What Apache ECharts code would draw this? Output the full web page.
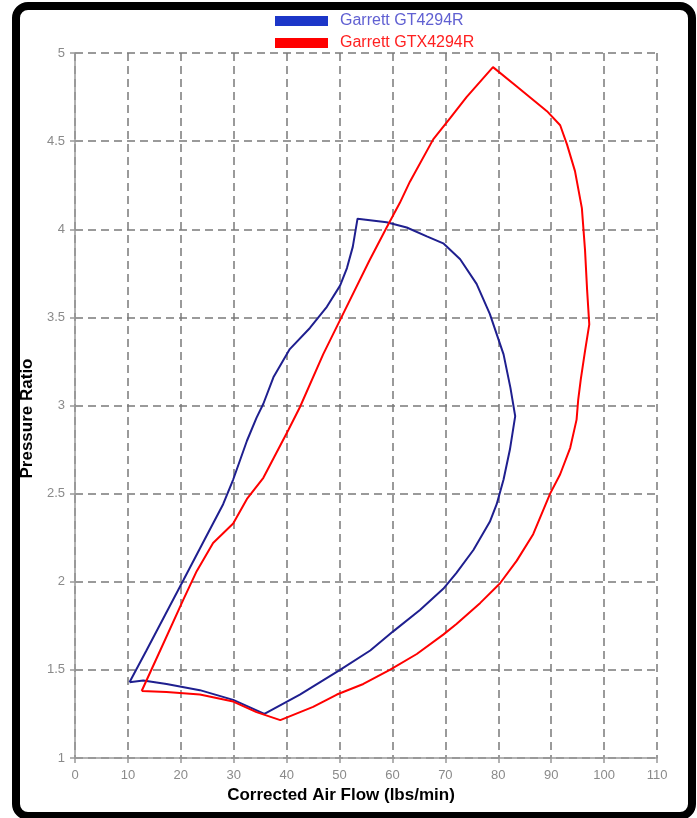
<!DOCTYPE html>
<html>
<head>
<meta charset="utf-8">
<script src="https://cdn.jsdelivr.net/npm/echarts@6/dist/echarts.min.js"></script>
<style>
html,body{margin:0;padding:0;background:#fff;}
#chart{width:697px;height:818px;}
</style>
</head>
<body>
<div id="chart"></div>
<script>
// X-axis ticks and Y-axis ticks
var xTicks = [0, 10, 20, 30, 40, 50, 60, 70, 80, 90, 100, 110];
var yTicks = [1, 1.5, 2, 2.5, 3, 3.5, 4, 4.5, 5];
var seriesNames = ['Garrett GT4294R', 'Garrett GTX4294R'];

// Garrett GT4294R compressor map outline (corrected air flow lbs/min, pressure ratio)
var gtFlow = [10.3, 13.5, 17.0, 20.5, 24.5, 28.0, 29.9, 32.5, 34.3, 35.6, 37.5, 40.6, 44.4, 47.6, 50.1, 51.4, 52.5, 53.4,
  58.9, 62.7, 66.5, 69.6, 72.8, 75.9, 78.4, 81.0, 82.3, 83.2, 82.2, 81.0, 79.7, 78.4, 75.3, 72.1, 69.6, 65.2, 60.2, 55.8,
  50.1, 42.5, 35.8, 29.9, 23.6, 17.3, 12.9, 10.3];
var gtPR = [1.43, 1.61, 1.81, 2.01, 2.24, 2.44, 2.58, 2.80, 2.93, 3.01, 3.16, 3.32, 3.44, 3.56, 3.68, 3.78, 3.90, 4.06,
  4.04, 4.01, 3.96, 3.92, 3.83, 3.69, 3.52, 3.29, 3.10, 2.94, 2.75, 2.58, 2.44, 2.34, 2.18, 2.05, 1.96, 1.84, 1.72, 1.61,
  1.50, 1.36, 1.25, 1.33, 1.385, 1.42, 1.44, 1.43];

// Garrett GTX4294R compressor map outline
var gtxFlow = [12.6, 16.1, 20.5, 23.0, 26.1, 29.9, 32.5, 35.6, 40.3, 42.5, 46.9, 51.0, 55.6, 58.9, 61.4, 63.3, 67.7, 70.9,
  74.0, 79.0, 83.5, 89.2, 91.7, 93.0, 94.5, 95.8, 96.4, 96.8, 97.2, 96.4, 95.6, 95.1, 94.8, 93.6, 91.7, 89.8, 86.6, 83.5,
  80.3, 76.6, 72.1, 69.6, 64.6, 59.5, 54.5, 49.5, 45.0, 38.8, 34.3, 29.9, 23.6, 17.3, 12.6];
var gtxPR = [1.38, 1.61, 1.90, 2.06, 2.22, 2.33, 2.47, 2.59, 2.86, 2.99, 3.29, 3.54, 3.82, 4.01, 4.15, 4.27, 4.51, 4.63,
  4.75, 4.92, 4.81, 4.67, 4.59, 4.48, 4.33, 4.12, 3.88, 3.65, 3.46, 3.31, 3.15, 3.03, 2.92, 2.76, 2.61, 2.50, 2.27, 2.12,
  1.99, 1.88, 1.76, 1.70, 1.59, 1.50, 1.42, 1.36, 1.29, 1.215, 1.26, 1.32, 1.36, 1.375, 1.38];

function pairs(xs, ys) {
  var out = [];
  for (var i = 0; i < xs.length; i++) out.push([xs[i], ys[i]]);
  return out;
}

var FONT = '"Liberation Sans", Arial, sans-serif';
var chart = echarts.init(document.getElementById('chart'), null, {renderer: 'canvas'});

var gridLine = {show: true, lineStyle: {color: '#7a7a7a', width: 1.5, type: [8, 5]}};

chart.setOption({
  backgroundColor: '#ffffff',
  animation: false,
  grid: {left: 75, right: 40, top: 53, bottom: 60, containLabel: false},
  legend: {
    orient: 'vertical',
    left: 270,
    top: 8,
    itemWidth: 53,
    itemHeight: 10,
    itemGap: 6,
    icon: 'rect',
    textStyle: {fontFamily: FONT, fontSize: 16, lineHeight: 16, padding: [0, 0, 0, 7]},
    data: [
      {name: seriesNames[0], itemStyle: {color: '#1c36c8'}, textStyle: {color: '#6060d2'}},
      {name: seriesNames[1], itemStyle: {color: '#ff0000'}, textStyle: {color: '#ff2020'}}
    ]
  },
  xAxis: {
    type: 'value',
    min: xTicks[0],
    max: xTicks[xTicks.length - 1],
    interval: 10,
    name: 'Corrected Air Flow (lbs/min)',
    nameLocation: 'middle',
    nameGap: 29,
    nameTextStyle: {fontFamily: FONT, fontSize: 17, fontWeight: 'bold', color: '#000', padding: [0, 50, 0, 0]},
    axisLine: {show: true, lineStyle: {color: '#999', width: 1.5}},
    axisTick: {show: true, length: 5, lineStyle: {color: '#999', width: 1.5}},
    axisLabel: {fontFamily: FONT, fontSize: 13, color: '#8a8a8a', margin: 11},
    splitLine: gridLine
  },
  yAxis: {
    type: 'value',
    min: yTicks[0],
    max: yTicks[yTicks.length - 1],
    interval: 0.5,
    name: 'Pressure Ratio',
    nameLocation: 'middle',
    nameGap: 38,
    nameTextStyle: {fontFamily: FONT, fontSize: 17, fontWeight: 'bold', color: '#000', padding: [0, 26, 0, 0]},
    axisLine: {show: true, lineStyle: {color: '#999', width: 1.5}},
    axisTick: {show: true, length: 5, lineStyle: {color: '#999', width: 1.5}},
    axisLabel: {fontFamily: FONT, fontSize: 13, color: '#8a8a8a', margin: 10},
    splitLine: gridLine
  },
  graphic: [{
    type: 'rect',
    shape: {x: 16, y: 6, width: 676, height: 810, r: 12},
    style: {fill: 'none', stroke: '#000', lineWidth: 8},
    z: 100
  }],
  series: [
    {
      name: seriesNames[0],
      type: 'line',
      data: pairs(gtFlow, gtPR),
      showSymbol: false,
      symbol: 'none',
      lineStyle: {color: '#1f1f8f', width: 2},
      itemStyle: {color: '#1f1f8f'},
      z: 3
    },
    {
      name: seriesNames[1],
      type: 'line',
      data: pairs(gtxFlow, gtxPR),
      showSymbol: false,
      symbol: 'none',
      lineStyle: {color: '#ff0000', width: 2},
      itemStyle: {color: '#ff0000'},
      z: 4
    }
  ]
});
</script>
</body>
</html>
